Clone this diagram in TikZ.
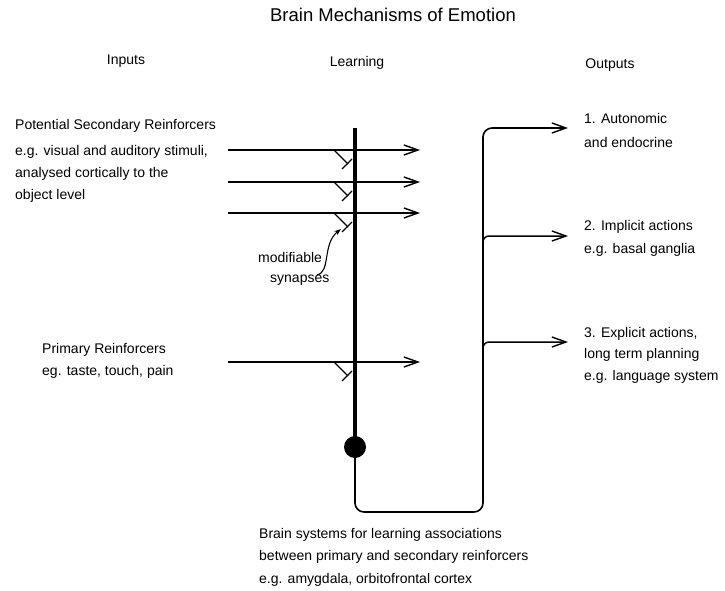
\documentclass[tikz,border=0pt]{standalone}
\usepackage{fontspec}
\setmainfont{Liberation Sans}
\usetikzlibrary{arrows.meta}
\begin{document}
\begin{tikzpicture}[x=1pt,y=-1pt,
  txt/.style={anchor=base west,inner sep=0pt,font=\fontsize{14}{16}\selectfont},
  ctxt/.style={anchor=base,inner sep=0pt,font=\fontsize{14}{16}\selectfont},
  barb/.style={-{Straight Barb[length=14pt,width=10pt,line width=1.4pt]}},
  inline/.style={line width=1.6pt,barb},
  outline/.style={line width=1.5pt,barb},
  syn/.style={line width=1.1pt},
  axon/.style={line width=4pt}]
\useasboundingbox[fill=white] (0,0) rectangle (725,591);

% texts
\node[ctxt,font=\fontsize{18.5}{20}\selectfont] (title) at (393,22) {Brain Mechanisms of Emotion};
\node[ctxt] (inputs) at (126,65) {Inputs};
\node[ctxt] (learning) at (357,67) {Learning};
\node[ctxt] (outputs) at (610,69) {Outputs};

\node[txt] (psr1) at (15,130) {Potential Secondary Reinforcers};
\node[txt] (psr2) at (15,155) {e.g. visual and auditory stimuli,};
\node[txt] (psr3) at (15,177) {analysed cortically to the};
\node[txt] (psr4) at (15,199) {object level};

\node[txt] (mod1) at (258,262) {modifiable};
\node[txt] (mod2) at (270,282) {synapses};

\node[txt] (pr1) at (42,353) {Primary Reinforcers};
\node[txt] (pr2) at (42,375) {eg. taste, touch, pain};

\node[txt] (o1a) at (584,124) {1. Autonomic};
\node[txt] (o1b) at (584,147) {and endocrine};
\node[txt] (o2a) at (584,230) {2. Implicit actions};
\node[txt] (o2b) at (584,253) {e.g. basal ganglia};
\node[txt] (o3a) at (584,337) {3. Explicit actions,};
\node[txt] (o3b) at (584,358) {long term planning};
\node[txt] (o3c) at (584,380) {e.g. language system};

\node[txt] (b1) at (259,538) {Brain systems for learning associations};
\node[txt] (b2) at (259,560) {between primary and secondary reinforcers};
\node[txt] (b3) at (259,583) {e.g. amygdala, orbitofrontal cortex};

% coordinates
\coordinate (top) at (355,128);
\node[circle,fill=black,inner sep=0pt,minimum size=22pt] (cell) at (355,447) {};
\coordinate (bl) at (355,512);
\coordinate (br) at (483,512);
\coordinate (ot) at (483,128);
\coordinate (o1) at (568,128);
\coordinate (o2) at (568,236);
\coordinate (o3) at (568,342);

\foreach \y/\n in {150/a,182/b,213/c,362/d}{
  \coordinate (s\n) at (228,\y);
  \coordinate (e\n) at (420,\y);
}

% input lines
\draw[inline] (sa) -- (ea);
\draw[inline] (sb) -- (eb);
\draw[inline,line width=2.2pt] (sc) -- (ec);
\draw[inline] (sd) -- (ed);

% axon / dendrite
\draw[axon] (top) -- (cell.center);

% synapses
\foreach \y in {150,182,213,362}{
  \draw[syn] (334,\y) -- (348,\y+14);
  \draw[syn] (342,\y+19) -- (352,\y+9);
}

% output path
\draw[outline,line width=1.6pt,rounded corners=9pt] (cell.south) -- (bl) -- (br) -- (ot) -- (o1);
\draw[outline,rounded corners=6pt] (483,246) |- (o2);
\draw[outline,rounded corners=6pt] (483,352) |- (o3);

% modifiable synapse pointer
\draw[line width=1.1pt,-{Stealth[length=7pt,width=5pt]}] (317,275) .. controls (331,272) and (322,244) .. (341,229);
\end{tikzpicture}
\end{document}
